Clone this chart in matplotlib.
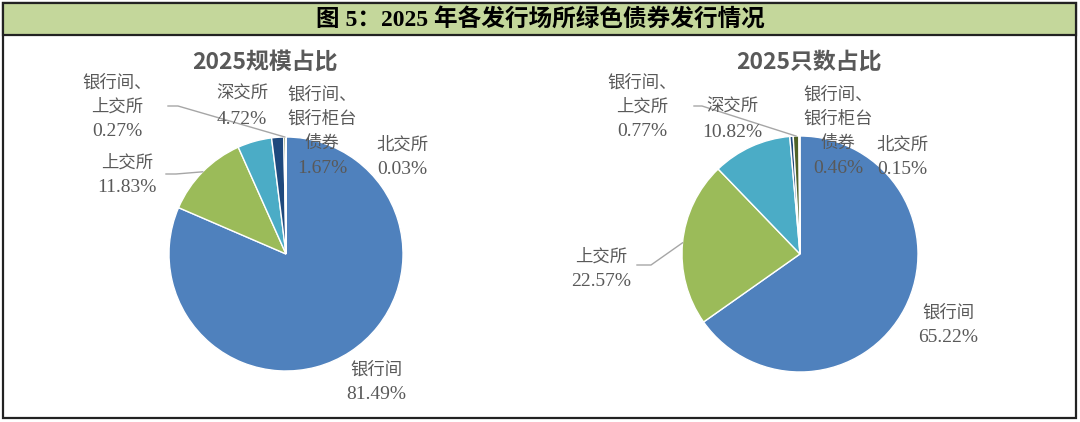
import numpy as np
import matplotlib
matplotlib.use("Agg")
import matplotlib.pyplot as plt
from matplotlib.patches import Rectangle

plt.rcParams['font.family'] = ['Liberation Serif', 'Noto Sans CJK SC']

# data
venues = ['银行间', '上交所', '深交所', '银行间、银行柜台债券', '银行间、上交所', '北交所']
scale_share = [81.49, 11.83, 4.72, 1.67, 0.27, 0.03]
count_share = [65.22, 22.57, 10.82, 0.46, 0.77, 0.15]
colors = ['#4F81BD', '#9BBB59', '#4BACC6', '#1F497D', '#4F6228', '#8064A2']

# how each venue name is wrapped in the labels
name_lines = [['银行间'], ['上交所'], ['深交所'], ['银行间、', '银行柜台', '债券'],
              ['银行间、', '上交所'], ['北交所']]

W, H = 1080, 422
fig = plt.figure(figsize=(W / 100, H / 100), dpi=100)

# background / frame
bg = fig.add_axes([0, 0, 1, 1])
bg.set_xlim(0, W)
bg.set_ylim(H, 0)
bg.axis('off')
bg.add_patch(Rectangle((3, 3), 1073, 415, facecolor='white', edgecolor='#222222', lw=1.6))
bg.add_patch(Rectangle((3, 3), 1073, 32, facecolor='#C4D79B', edgecolor='#222222', lw=1.6))
bg.text(540, 19.5, '图 5：2025 年各发行场所绿色债券发行情况', ha='center', va='center',
        fontsize=17, fontweight='bold', color='black')

label_color = '#595959'
pies = []


def draw_pie(cx, cy, r, values):
    ax = fig.add_axes([(cx - r) / W, (H - cy - r) / H, 2 * r / W, 2 * r / H])
    wedges, _ = ax.pie(values, colors=colors, startangle=90, counterclock=False,
                       wedgeprops=dict(edgecolor='white', linewidth=1))
    ax.set_xlim(-1, 1)
    ax.set_ylim(-1, 1)
    return wedges


left_wedges = draw_pie(286, 254, 117, scale_share)
right_wedges = draw_pie(800, 254, 118, count_share)

# overlay for titles, labels, leader lines
top = fig.add_axes([0, 0, 1, 1])
top.set_xlim(0, W)
top.set_ylim(H, 0)
top.axis('off')
top.patch.set_alpha(0)


def annotate(values, wedges, cx, cy, r, title, title_x, places):
    top.text(title_x, 62, title, ha='center', va='center', fontsize=16.5, fontweight='bold',
             color='#595959', family=['Noto Sans CJK SC'])
    for i, (tx, ty, leader) in enumerate(places):
        lines = name_lines[i]
        for k, s in enumerate(lines):
            top.text(tx, ty + 24.5 * k, s, ha='center', va='center', fontsize=12.5,
                     color=label_color)
        top.text(tx, ty + 24.5 * len(lines), f'{values[i]:.2f}%', ha='center', va='center',
                 fontsize=14, color=label_color)
        if leader is not None:
            w = wedges[i]
            mid = np.deg2rad((w.theta1 + w.theta2) / 2)
            px = cx + r * np.cos(mid)
            py = cy - r * np.sin(mid)
            top.plot([leader[0], leader[0] + leader[2], px], [leader[1], leader[1], py],
                     color='#A6A6A6', lw=1)


annotate(scale_share, left_wedges, 286, 254, 117, '2025规模占比', 265, [
    (376, 370, None),
    (127, 163, (166, 174, 10)),
    (242, 95, None),
    (322, 95, None),
    (117, 83, (168, 106, 10)),
    (402, 145, None),
])

annotate(count_share, right_wedges, 800, 254, 118, '2025只数占比', 809, [
    (948, 313, None),
    (601, 257, (637, 265, 14)),
    (732, 108, None),
    (838, 95, None),
    (642, 83, (694, 106, 8)),
    (902, 145, None),
])

fig.savefig('out.png', dpi=100)
